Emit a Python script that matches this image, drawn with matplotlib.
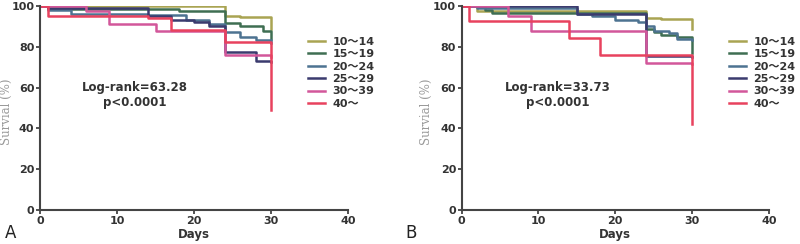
import matplotlib
matplotlib.use("Agg")
import matplotlib.pyplot as plt

groups = ["10～14", "15～19", "20～24", "25～29", "30～39", "40～"]
colors = ["#a9a452", "#3f6e52", "#4d7391", "#3b3b6e", "#d2579a", "#e8425e"]

# Panel A
a_times = [
    [0, 24, 26, 30],
    [0, 1, 18, 24, 26, 29, 30],
    [0, 1, 4, 14, 19, 22, 24, 26, 28, 30],
    [0, 1, 14, 17, 20, 22, 24, 28, 30],
    [0, 6, 9, 15, 24, 30],
    [0, 1, 14, 17, 24, 30],
]
a_surv = [
    [100, 95, 94.5, 89],
    [100, 98.5, 97.5, 91.5, 90, 88, 84],
    [100, 98, 96, 95.5, 93, 91, 87.5, 85, 83.5, 82],
    [100, 99, 95, 93, 92, 90, 77.5, 73, 72.5],
    [100, 97.5, 91, 88, 76, 75],
    [100, 95, 94, 88.5, 82.5, 49],
]
a_stat = ["Log-rank=63.28", "p<0.0001"]

# Panel B
b_times = [
    [0, 2, 24, 26, 30],
    [0, 3, 4, 24, 25, 26, 28, 30],
    [0, 2, 15, 17, 20, 23, 24, 25, 27, 28, 30],
    [0, 15, 24, 30],
    [0, 6, 9, 24, 30],
    [0, 1, 14, 18, 30],
]
b_surv = [
    [100, 97.5, 94, 93.5, 89],
    [100, 98, 96.5, 89, 87.5, 86, 85, 77],
    [100, 99, 96, 95, 93, 92, 90, 88, 87, 84, 83.5],
    [100, 96, 75.5, 75],
    [100, 95, 88, 72, 71.5],
    [100, 92.5, 84.5, 76, 42],
]
b_stat = ["Log-rank=33.73", "p<0.0001"]

x_ticks = [0, 10, 20, 30, 40]
y_ticks = [0, 20, 40, 60, 80, 100]

fig = plt.figure(figsize=(8, 2.44), dpi=100)
axA = fig.add_axes([0.05, 0.139, 0.385, 0.836])
axB = fig.add_axes([0.577, 0.139, 0.384, 0.836])

tilde_fam = ["DejaVu Sans", "Noto Sans CJK SC"]

def draw(ax, times, survs, stat, stat_x, letter, letter_x, ylab_x):
    for t, s, c, g in zip(times, survs, colors, groups):
        ax.step(t, s, where="post", color=c, lw=1.8, label=g)
    ax.set_xlim(0, 40)
    ax.set_ylim(0, 100)
    ax.set_xticks(x_ticks)
    ax.set_yticks(y_ticks)
    for sp in ["top", "right"]:
        ax.spines[sp].set_visible(False)
    for sp in ["left", "bottom"]:
        ax.spines[sp].set_color("#444444")
        ax.spines[sp].set_linewidth(1.5)
    ax.tick_params(axis="both", direction="out", length=3, width=1.3,
                   color="#444444", labelsize=8, pad=1)
    for lab in ax.get_xticklabels() + ax.get_yticklabels():
        lab.set_fontweight("bold")
        lab.set_color("#333333")
    ax.set_xlabel("Days", fontsize=8.5, fontweight="bold", color="#333333")
    ax.xaxis.set_label_coords(0.5, -0.09)
    ax.set_ylabel("Survial (%)", fontsize=8.5, family="DejaVu Serif",
                  color="#999999")
    ax.yaxis.set_label_coords(ylab_x, 0.48)
    ax.text(stat_x, 60, stat[0], ha="center", va="center", fontsize=8.5,
            fontweight="bold", color="#333333")
    ax.text(stat_x, 52.5, stat[1], ha="center", va="center", fontsize=8.5,
            fontweight="bold", color="#333333")
    leg = ax.legend(loc="upper left", bbox_to_anchor=(0.87, 0.85), frameon=False,
                    handlelength=1.5, handletextpad=0.7, labelspacing=0.22,
                    borderaxespad=0, borderpad=0,
                    prop={"family": tilde_fam, "weight": "bold", "size": 8})
    for txt in leg.get_texts():
        txt.set_color("#333333")
    for h in leg.get_lines():
        h.set_linewidth(1.8)
    fig.text(letter_x, 0.045, letter, fontsize=12, color="#222222", ha="left", va="center")

draw(axA, a_times, a_surv, a_stat, 12.3, "A", 0.006, -0.088)
draw(axB, b_times, b_surv, b_stat, 12.5, "B", 0.507, -0.092)

fig.savefig("out.png", dpi=100)
